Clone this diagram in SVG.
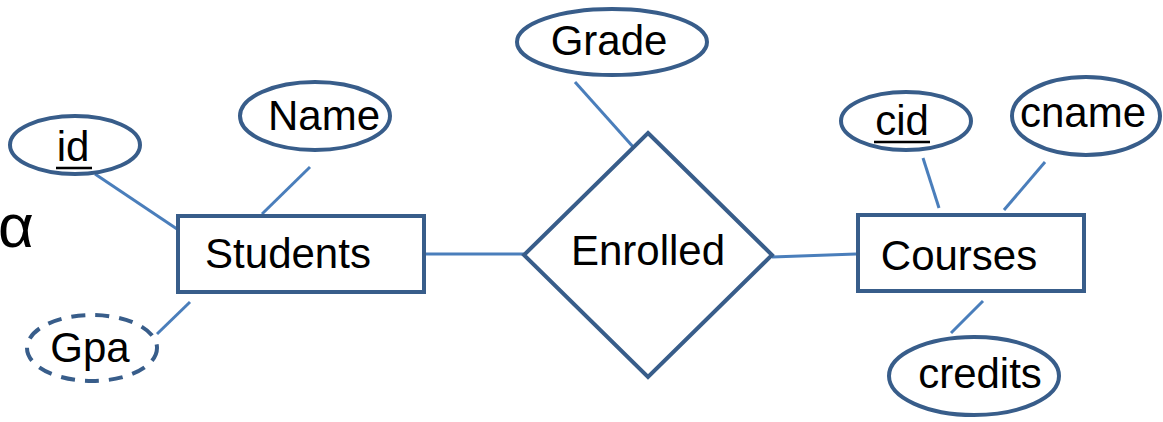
<svg xmlns="http://www.w3.org/2000/svg" width="1163" height="422" viewBox="0 0 1163 422">
  <style>
    .shape { fill: #ffffff; stroke: #385d8a; stroke-width: 4; }
    .dashed { stroke-dasharray: 14 10; }
    .link { stroke: #4a7ebb; stroke-width: 3; fill: none; }
    .label { font-family: "Liberation Sans", Arial, sans-serif; font-size: 42px; fill: #000000; text-anchor: middle; }
    .uline { stroke: #000000; stroke-width: 2.5; }
  </style>
  <rect width="1163" height="422" fill="#ffffff"/>

  <!-- connectors -->
  <g id="connectors">
    <line class="link" x1="95" y1="174" x2="177" y2="229"/>
    <line class="link" x1="310" y1="167" x2="262" y2="214"/>
    <line class="link" x1="190" y1="302" x2="157" y2="334"/>
    <line class="link" x1="426" y1="254" x2="524" y2="254"/>
    <line class="link" x1="772" y1="257" x2="856" y2="254"/>
    <line class="link" x1="575" y1="82" x2="635" y2="149"/>
    <line class="link" x1="923" y1="158" x2="939" y2="208"/>
    <line class="link" x1="1045" y1="162" x2="1004" y2="210"/>
    <line class="link" x1="983" y1="301" x2="951" y2="333"/>
  </g>

  <!-- stray symbol at the left edge -->
  <text x="-2" y="247" font-family="Liberation Sans, Arial, sans-serif" font-size="62" fill="#000">α</text>

  <g id="students">
    <rect class="shape" x="178" y="216" width="246" height="76"/>
    <text class="label" x="288" y="268">Students</text>
  </g>

  <g id="enrolled">
    <polygon class="shape" points="648,133 772,255 648,377 524,255"/>
    <text class="label" x="648" y="265">Enrolled</text>
  </g>

  <g id="courses">
    <rect class="shape" x="858" y="215" width="226" height="76"/>
    <text class="label" x="959" y="270">Courses</text>
  </g>

  <g id="grade">
    <ellipse class="shape" cx="612" cy="42" rx="95" ry="33"/>
    <text class="label" x="609" y="55">Grade</text>
  </g>

  <g id="id">
    <ellipse class="shape" cx="75" cy="145" rx="65" ry="29"/>
    <text class="label" x="73" y="161">id</text>
    <line class="uline" x1="56" y1="168" x2="92" y2="168"/>
  </g>

  <g id="name">
    <ellipse class="shape" cx="315" cy="116" rx="75" ry="34"/>
    <text class="label" x="324" y="130">Name</text>
  </g>

  <g id="gpa">
    <ellipse class="shape dashed" cx="92" cy="348" rx="65" ry="33"/>
    <text class="label" x="90" y="362">Gpa</text>
  </g>

  <g id="cid">
    <ellipse class="shape" cx="906" cy="121" rx="65" ry="29"/>
    <text class="label" x="902" y="135">cid</text>
    <line class="uline" x1="874" y1="142" x2="930" y2="142"/>
  </g>

  <g id="cname">
    <ellipse class="shape" cx="1086" cy="116" rx="74" ry="39"/>
    <text class="label" x="1083" y="127">cname</text>
  </g>

  <g id="credits">
    <ellipse class="shape" cx="974" cy="376" rx="85" ry="39"/>
    <text class="label" x="980" y="388">credits</text>
  </g>
</svg>
